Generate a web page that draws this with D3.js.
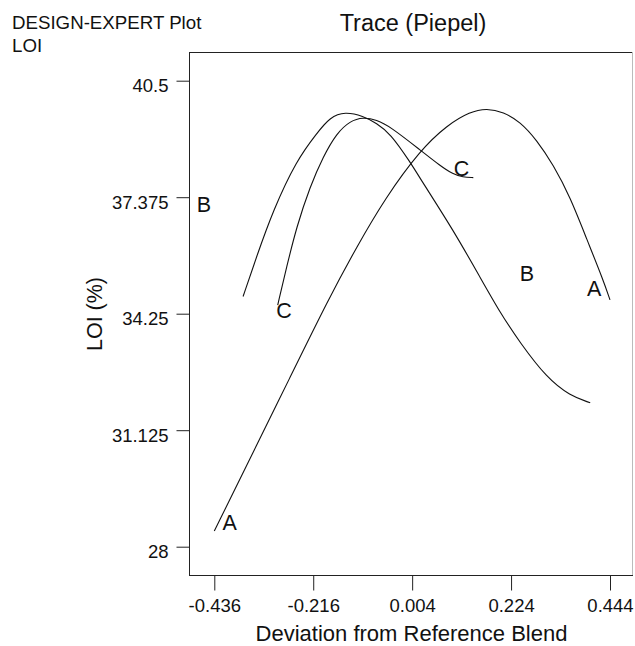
<!DOCTYPE html>
<html>
<head>
<meta charset="utf-8">
<script src="https://cdn.jsdelivr.net/npm/d3@7/dist/d3.min.js"></script>
<style>
  html, body { margin: 0; padding: 0; background: #fff; }
  svg { display: block; font-family: "Liberation Sans", Arial, sans-serif; }
</style>
</head>
<body>
<svg id="chart" width="635" height="646"></svg>
<script>
// Trace (Piepel) of LOI against deviation from the reference blend, components A, B, C
const xTicks = [-0.436, -0.216, 0.004, 0.224, 0.444];
const yTicks = [28, 31.125, 34.25, 37.375, 40.5];
const yTickLabels = ["28", "31.125", "34.25", "37.375", "40.5"];
const xTickLabels = ["-0.436", "-0.216", "0.004", "0.224", "0.444"];

// trace A
const traceAx = [-0.436, -0.357, -0.268, -0.183, -0.119, -0.056, 0.022, 0.082, 0.133, 0.170, 0.207, 0.244, 0.281, 0.318, 0.355, 0.393, 0.429, 0.444];
const traceAy = [28.42, 30.35, 32.53, 34.62, 36.05, 37.35, 38.64, 39.31, 39.67, 39.76, 39.66, 39.40, 38.91, 38.24, 37.39, 36.23, 35.15, 34.62];
// trace B
const traceBx = [-0.372, -0.342, -0.305, -0.253, -0.208, -0.179, -0.145, -0.105, -0.075, -0.045, -0.001, 0.028, 0.095, 0.155, 0.200, 0.244, 0.304, 0.355, 0.400];
const traceBy = [34.71, 35.78, 37.03, 38.37, 39.09, 39.52, 39.67, 39.55, 39.36, 39.09, 38.33, 37.76, 36.50, 35.23, 34.27, 33.47, 32.52, 32.05, 31.86];
// trace C
const traceCx = [-0.295, -0.275, -0.253, -0.223, -0.194, -0.164, -0.134, -0.105, -0.075, -0.045, 0.022, 0.066, 0.095, 0.117, 0.140];
const traceCy = [34.48, 35.51, 36.58, 37.66, 38.46, 39.09, 39.42, 39.52, 39.45, 39.27, 38.64, 38.22, 37.99, 37.91, 37.90];

// component letters placed on the plot
const labelText = ["A", "A", "B", "B", "C", "C"];
const labelX = [-0.402, 0.409, -0.459, 0.259, -0.281, 0.114];
const labelY = [28.45, 34.72, 36.99, 35.13, 34.13, 37.94];

const svg = d3.select("#chart");
const frame = { left: 189, right: 633, top: 52, bottom: 576 };

const x = d3.scaleLinear().domain([-0.436, 0.444]).range([214.3, 610]);
const y = d3.scaleLinear().domain([28, 40.5]).range([546.7, 80.7]);

// plot frame
svg.append("line").attr("x1", frame.left).attr("x2", frame.right)
  .attr("y1", frame.top + 0.5).attr("y2", frame.top + 0.5).attr("stroke", "#222");
svg.append("line").attr("x1", frame.right - 0.5).attr("x2", frame.right - 0.5)
  .attr("y1", frame.top).attr("y2", frame.bottom).attr("stroke", "#bbb");

// y axis
const yAxis = d3.axisLeft(y).tickValues(yTicks).tickSize(13).tickPadding(8)
  .tickFormat((d, i) => yTickLabels[i]);
const gy = svg.append("g").attr("transform", `translate(${frame.left + 0.5},0)`).call(yAxis);
gy.select(".domain").attr("d", `M0,${frame.top}V${frame.bottom}`).attr("stroke", "#222");
gy.selectAll(".tick line").attr("stroke", "#222");
gy.selectAll(".tick text").attr("font-size", 18.5).attr("fill", "#111")
  .attr("font-family", "Liberation Sans, Arial, sans-serif").attr("dy", "0.6em");

// x axis
const xAxis = d3.axisBottom(x).tickValues(xTicks).tickSize(15).tickPadding(8)
  .tickFormat((d, i) => xTickLabels[i]);
const gx = svg.append("g").attr("transform", `translate(0,${frame.bottom - 0.5})`).call(xAxis);
gx.select(".domain").attr("d", `M${frame.left},0H${frame.right}`).attr("stroke", "#222");
gx.selectAll(".tick line").attr("stroke", "#222");
gx.selectAll(".tick text").attr("font-size", 18.5).attr("fill", "#111")
  .attr("font-family", "Liberation Sans, Arial, sans-serif");

// traces
const line = d3.line().x(d => x(d[0])).y(d => y(d[1])).curve(d3.curveBasis);
const traces = [
  d3.zip(traceAx, traceAy),
  d3.zip(traceBx, traceBy),
  d3.zip(traceCx, traceCy)
];
svg.append("g").selectAll("path").data(traces).join("path")
  .attr("d", line).attr("fill", "none").attr("stroke", "#111").attr("stroke-width", 1.1);

// letters
svg.append("g").selectAll("text").data(labelText).join("text")
  .attr("x", (d, i) => x(labelX[i])).attr("y", (d, i) => y(labelY[i]))
  .attr("text-anchor", "middle").attr("font-size", 21.5).attr("fill", "#111")
  .text(d => d);

// titles
svg.append("text").attr("x", 12).attr("y", 29.3).attr("font-size", 18.7).attr("fill", "#111")
  .text("DESIGN-EXPERT Plot");
svg.append("text").attr("x", 12).attr("y", 52.3).attr("font-size", 18.7).attr("fill", "#111")
  .text("LOI");
svg.append("text").attr("x", 413).attr("y", 30.7).attr("text-anchor", "middle")
  .attr("font-size", 23.5).attr("fill", "#111").text("Trace (Piepel)");
svg.append("text").attr("x", 411.5).attr("y", 641).attr("text-anchor", "middle")
  .attr("font-size", 22).attr("fill", "#111").text("Deviation from Reference Blend");
svg.append("text").attr("transform", "translate(102,314) rotate(-90)")
  .attr("text-anchor", "middle").attr("font-size", 21.5).attr("fill", "#111").text("LOI (%)");
</script>
</body>
</html>
